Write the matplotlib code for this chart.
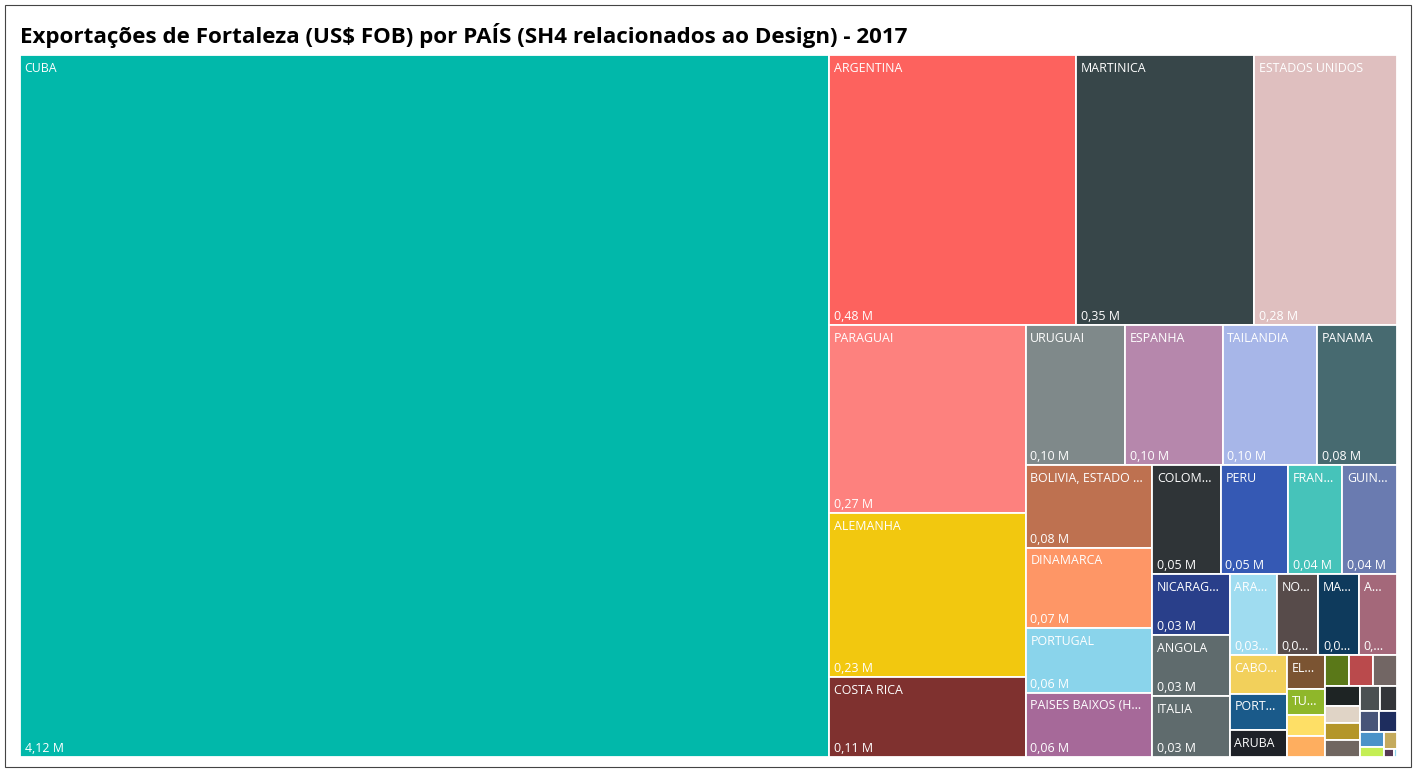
import matplotlib
matplotlib.use("Agg")
import matplotlib.pyplot as plt
from matplotlib.patches import Rectangle

# ---------------- data ----------------
title = "Exportações de Fortaleza (US$ FOB) por PAÍS (SH4 relacionados ao Design) - 2017"

countries = [
    "CUBA", "ARGENTINA", "MARTINICA", "ESTADOS UNIDOS", "PARAGUAI", "ALEMANHA",
    "COSTA RICA", "URUGUAI", "ESPANHA", "TAILANDIA", "PANAMA",
    "BOLIVIA, ESTADO PLURINACIONAL DA", "DINAMARCA", "PORTUGAL",
    "PAISES BAIXOS (HOLANDA)", "COLOMBIA", "PERU", "FRANCA", "GUINE EQUATORIAL",
    "NICARAGUA", "ANGOLA", "ITALIA", "ARABIA SAUDITA", "NORUEGA", "MARROCOS",
    "AUSTRALIA", "CABO VERDE", "PORTO RICO", "ARUBA", "EL SALVADOR", "TURQUIA",
    "CHILE", "MEXICO", "CANADA", "CHINA", "REINO UNIDO", "BELGICA", "JAPAO",
    "SUICA", "GRECIA", "ISRAEL", "AUSTRIA", "SUECIA", "COREIA DO SUL",
    "AFRICA DO SUL", "IRLANDA", "EQUADOR", "VENEZUELA", "POLONIA",
]
values_musd = [
    4.12, 0.483, 0.349, 0.279, 0.268, 0.233,
    0.114, 0.101, 0.099, 0.096, 0.081,
    0.0760, 0.0740, 0.0590,
    0.0590, 0.054, 0.053, 0.043, 0.043,
    0.0345, 0.0343, 0.0340, 0.0279, 0.0244, 0.0240,
    0.0224, 0.0160, 0.0152, 0.0113, 0.0091, 0.0073,
    0.0057, 0.0056, 0.0055, 0.0054, 0.0054, 0.0049, 0.0044,
    0.0044, 0.0043, 0.0035, 0.0031, 0.0028, 0.0028,
    0.0026, 0.0017, 0.0016, 0.0006, 0.0002,
]
colors = [
    "#01B8AA", "#FD625E", "#374649", "#DFBFBF", "#FD817E", "#F2C80F",
    "#7F312F", "#7F898A", "#B687AC", "#A7B6E8", "#476A70",
    "#BE7150", "#FE9666", "#8AD4EB",
    "#A66999", "#2F3437", "#3559B4", "#46C3BA", "#6A7BB0",
    "#293F8A", "#5F6B6D", "#5F6B6D", "#9FDCF0", "#574B4A", "#0E3A5C",
    "#A4687A", "#F2D05B", "#1A5A8A", "#1E2127", "#7B5432", "#8FB72A",
    "#FEDF66", "#FEAE5F", "#5A7818", "#BA4A4C", "#726664", "#1E2424", "#E0D4C6",
    "#B4962A", "#706660", "#4A5052", "#333539", "#475478", "#1E2D5E",
    "#4A92C8", "#C4EE54", "#C4AA5C", "#553955", "#8AD4EB",
]

# ---------------- squarified treemap layout (d3-style, golden ratio) ----------------
PHI = (1 + 5 ** 0.5) / 2

def squarify(vals, x0, y0, x1, y1, ratio=PHI):
    n = len(vals)
    out = []
    value = float(sum(vals))
    i0 = i1 = 0
    while i0 < n:
        dx, dy = x1 - x0, y1 - y0
        sumv = vals[i1]
        i1 += 1
        minv = maxv = sumv
        alpha = max(dy / dx, dx / dy) / (value * ratio)
        beta = sumv * sumv * alpha
        min_ratio = max(maxv / beta, beta / minv)
        while i1 < n:
            nv = vals[i1]
            s2 = sumv + nv
            mn, mx = min(minv, nv), max(maxv, nv)
            beta = s2 * s2 * alpha
            nr = max(mx / beta, beta / mn)
            if nr > min_ratio:
                break
            sumv, minv, maxv, min_ratio = s2, mn, mx, nr
            i1 += 1
        row = vals[i0:i1]
        if dx < dy:
            ny = y0 + dy * sumv / value
            xx = x0
            for v in row:
                w = dx * v / sumv
                out.append((xx, y0, w, ny - y0))
                xx += w
            y0 = ny
        else:
            nx = x0 + dx * sumv / value
            yy = y0
            for v in row:
                h = dy * v / sumv
                out.append((x0, yy, nx - x0, h))
                yy += h
            x0 = nx
        value -= sumv
        i0 = i1
    return out

# ---------------- figure ----------------
FW, FH, DPI = 1416, 771, 100
fig = plt.figure(figsize=(FW / DPI, FH / DPI), dpi=DPI)
fig.patch.set_facecolor("white")

left, right, top, bottom = 20, 1397, 55, 757
ax = fig.add_axes([left / FW, 1 - bottom / FH, (right - left) / FW, (bottom - top) / FH])
W, H = right - left, bottom - top
ax.set_xlim(0, W)
ax.set_ylim(H, 0)
ax.axis("off")

rects = squarify(values_musd, 0, 0, W, H)

FONT = "Open Sans"
LBL_FS = 8.9
renderer = fig.canvas.get_renderer()
probe = fig.text(0, 0, "", fontsize=LBL_FS, family=FONT)

def text_w(s):
    probe.set_text(s)
    return probe.get_window_extent(renderer).width

def fit(s, maxw, strip=False):
    if text_w(s) <= maxw:
        return s
    for n in range(len(s) - 1, 0, -1):
        base = s[:n].rstrip() if strip else s[:n]
        if text_w(base + "...") <= maxw:
            return base + "..."
    return None

for (x, y, w, h), name, v, c in zip(rects, countries, values_musd, colors):
    ax.add_patch(Rectangle((x, y), w, h, facecolor=c, edgecolor="white", linewidth=1.3))
    if w >= 30 and h >= 25:
        lbl = fit(name, w - 11.5)
        if lbl:
            ax.annotate(lbl, (x, y), xytext=(3.3, -4.8), textcoords="offset points",
                        ha="left", va="top", fontsize=LBL_FS, family=FONT, color="white")
        if h >= 50:
            vs = fit(f"{v:.2f}".replace(".", ",") + " M", w - 11, strip=True)
            if vs:
                ax.annotate(vs, (x, y + h), xytext=(3.3, 1.6), textcoords="offset points",
                            ha="left", va="bottom", fontsize=LBL_FS, family=FONT, color="white")
probe.remove()

fig.text(20 / FW, 1 - 36 / FH, title, fontsize=16.1, fontweight="bold", family=FONT,
         ha="left", va="center", color="black")

fig.patches.append(Rectangle((4.5 / FW, 1 - 766.5 / FH), 1406 / FW, 762 / FH,
                             transform=fig.transFigure, fill=False,
                             edgecolor="#444444", linewidth=0.8))

fig.savefig("out.png", dpi=DPI, facecolor="white")
